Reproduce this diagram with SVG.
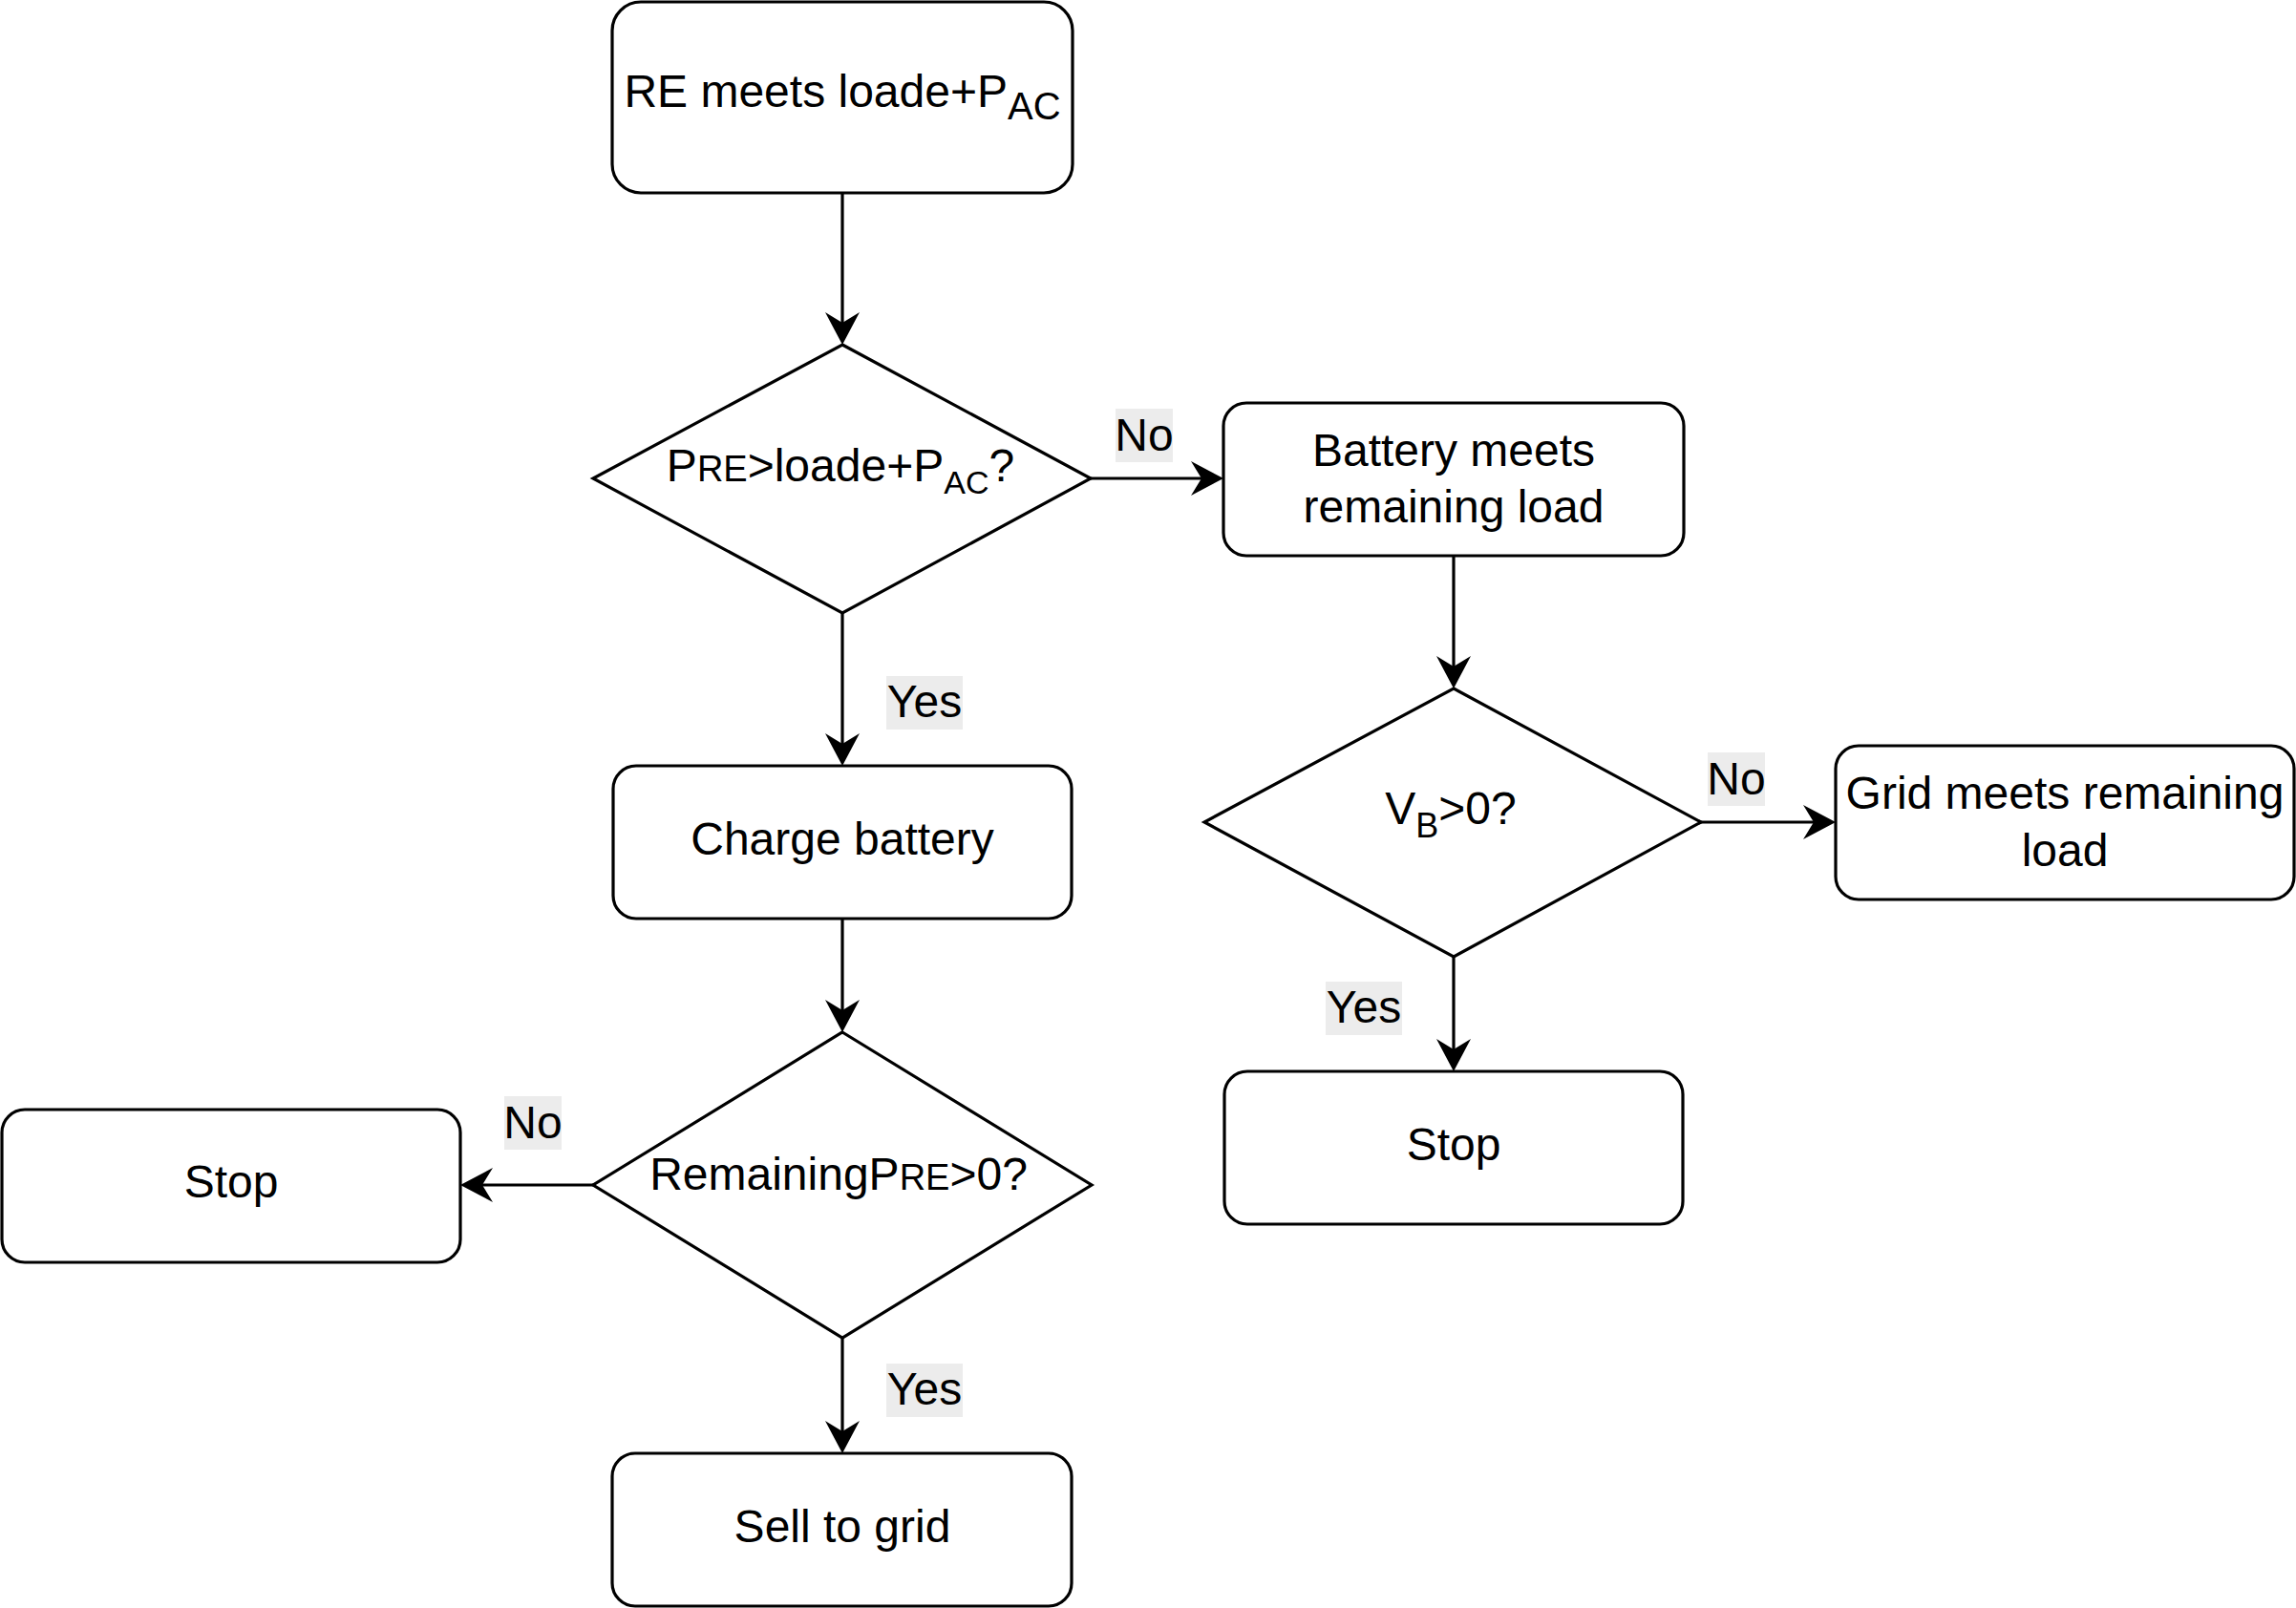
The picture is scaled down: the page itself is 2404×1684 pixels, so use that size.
<svg xmlns="http://www.w3.org/2000/svg" width="2404" height="1684" viewBox="0 0 2404 1684">
<style>
.box{fill:#ffffff;stroke:#000000;stroke-width:3.2}
.dia{fill:#ffffff;stroke:#000000;stroke-width:3.2;stroke-linejoin:miter}
.t{font-family:"Liberation Sans",Arial,Helvetica,sans-serif;font-size:48px;fill:#000000;text-anchor:middle}
.lbl{font-family:"Liberation Sans",Arial,Helvetica,sans-serif;font-size:48px;fill:#000000;text-anchor:middle}
.lblbg{fill:#ececec}
.edge{fill:none;stroke:#000000;stroke-width:3.2}
</style>
<defs>
<marker id="arr" markerUnits="userSpaceOnUse" viewBox="0 -19 35 38" markerWidth="35" markerHeight="38" refX="12" refY="0" orient="auto">
<path d="M34,0 L0,-18 L11,0 L0,18 Z" fill="#000000"/>
</marker>
</defs>
<rect width="2404" height="1684" fill="#ffffff"/>

<g id="connectors">
<line class="edge" x1="882" y1="202" x2="882" y2="339" marker-end="url(#arr)"/>
<line class="edge" x1="1142" y1="501" x2="1259" y2="501" marker-end="url(#arr)"/>
<line class="edge" x1="882" y1="642" x2="882" y2="780" marker-end="url(#arr)"/>
<line class="edge" x1="882" y1="962" x2="882" y2="1059" marker-end="url(#arr)"/>
<line class="edge" x1="621" y1="1241" x2="504" y2="1241" marker-end="url(#arr)"/>
<line class="edge" x1="882" y1="1401" x2="882" y2="1500" marker-end="url(#arr)"/>
<line class="edge" x1="1522" y1="582" x2="1522" y2="699" marker-end="url(#arr)"/>
<line class="edge" x1="1781" y1="861" x2="1900" y2="861" marker-end="url(#arr)"/>
<line class="edge" x1="1522" y1="1002" x2="1522" y2="1100" marker-end="url(#arr)"/>
<g id="edge-labels">
<rect class="lblbg" x="1168" y="428" width="60" height="56"/>
<text class="lbl" x="1198" y="472">No</text>
<rect class="lblbg" x="928" y="708" width="80" height="56"/>
<text class="lbl" x="968" y="751">Yes</text>
<rect class="lblbg" x="528" y="1148" width="60" height="56"/>
<text class="lbl" x="558" y="1192">No</text>
<rect class="lblbg" x="928" y="1428" width="80" height="56"/>
<text class="lbl" x="968" y="1471">Yes</text>
<rect class="lblbg" x="1788" y="788" width="60" height="56"/>
<text class="lbl" x="1818" y="832">No</text>
<rect class="lblbg" x="1388" y="1028" width="80" height="56"/>
<text class="lbl" x="1428" y="1071">Yes</text>
</g>
</g>

<g id="node-start">
<rect class="box" x="641" y="2" width="482" height="200" rx="30" ry="30"/>
<text class="t" x="882" y="112">RE meets loade+P<tspan font-size="40" dy="13">AC</tspan></text>
</g>

<g id="node-dec1">
<polygon class="dia" points="882,361 1142,501 882,642 621,501"/>
<text class="t" x="880" y="504">P<tspan font-size="38">RE</tspan>&gt;loade+P<tspan font-size="34" dy="13">AC</tspan><tspan dy="-13">?</tspan></text>
</g>

<g id="node-battery">
<rect class="box" x="1281" y="422" width="482" height="160" rx="24" ry="24"/>
<text class="t" x="1522" y="488">Battery meets</text>
<text class="t" x="1522" y="547">remaining load</text>
</g>

<g id="node-charge">
<rect class="box" x="642" y="802" width="480" height="160" rx="24" ry="24"/>
<text class="t" x="882" y="895">Charge battery</text>
</g>

<g id="node-dec2">
<polygon class="dia" points="1522,721 1781,861 1522,1002 1261,861"/>
<text class="t" x="1519" y="863">V<tspan font-size="36" dy="13.5">B</tspan><tspan dy="-13.5">&gt;0?</tspan></text>
</g>

<g id="node-grid">
<rect class="box" x="1922" y="781" width="480" height="161" rx="24" ry="24"/>
<text class="t" x="2162" y="847">Grid meets remaining</text>
<text class="t" x="2162" y="907">load</text>
</g>

<g id="node-dec3">
<polygon class="dia" points="882,1081 1143,1241 882,1401 621,1241"/>
<text class="t" x="878" y="1246">RemainingP<tspan font-size="38">RE</tspan>&gt;0?</text>
</g>

<g id="node-stop1">
<rect class="box" x="2" y="1162" width="480" height="160" rx="24" ry="24"/>
<text class="t" x="242" y="1254">Stop</text>
</g>

<g id="node-stop2">
<rect class="box" x="1282" y="1122" width="480" height="160" rx="24" ry="24"/>
<text class="t" x="1522" y="1215">Stop</text>
</g>

<g id="node-sell">
<rect class="box" x="641" y="1522" width="481" height="160" rx="24" ry="24"/>
<text class="t" x="882" y="1615">Sell to grid</text>
</g>
</svg>
